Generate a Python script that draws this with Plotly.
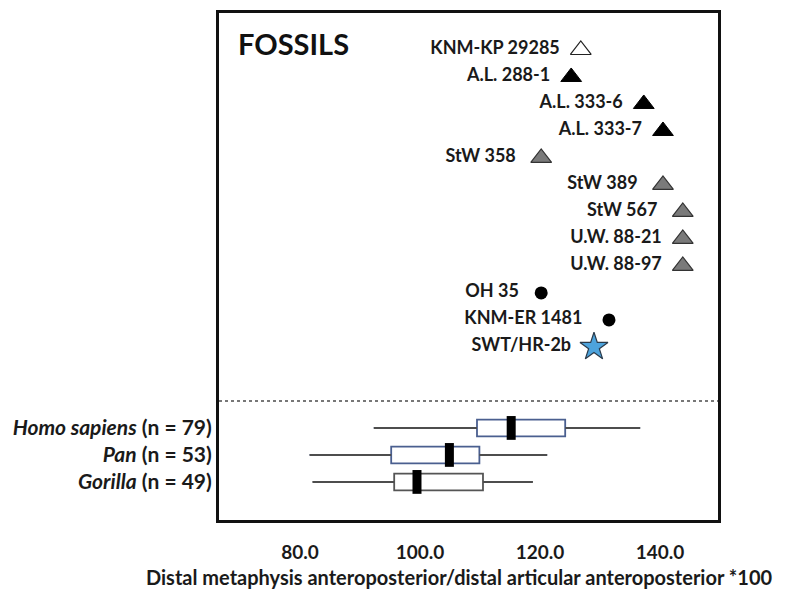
import plotly.graph_objects as go

# Fossil specimens: name, ratio value, marker group
fossil_names = ["KNM-KP 29285", "A.L. 288-1", "A.L. 333-6", "A.L. 333-7",
                "StW 358", "StW 389", "StW 567", "U.W. 88-21", "U.W. 88-97",
                "OH 35", "KNM-ER 1481", "SWT/HR-2b"]
fossil_values = [126.8, 125.2, 137.3, 140.5, 120.2, 140.5, 143.8, 143.8, 143.8,
                 120.2, 131.5, 129.0]
fossil_groups = ["anamensis", "afarensis", "afarensis", "afarensis",
                 "africanus", "africanus", "africanus", "sediba", "sediba",
                 "homo", "homo", "swt"]

# Extant comparative samples (box summaries)
species_labels = ["<i>Homo sapiens</i> (n = 79)", "<i>Pan</i> (n = 53)",
                  "<i>Gorilla</i> (n = 49)"]
species_lower = [92.3, 81.6, 82.1]
species_q1 = [109.5, 95.2, 95.7]
species_median = [115.2, 104.9, 99.5]
species_q3 = [124.2, 109.9, 110.5]
species_upper = [136.7, 121.2, 118.8]

x_ticks = [80, 100, 120, 140]
x_title = "Distal metaphysis anteroposterior/distal articular anteroposterior *100"

FONT = "Lato"

group_style = {
    "anamensis": dict(symbol="triangle-up", size=18, color="white", line=dict(color="#222", width=1.2), gap=2),
    "afarensis": dict(symbol="triangle-up", size=18, color="black", line=dict(color="black", width=1), gap=2),
    "africanus": dict(symbol="triangle-up", size=18, color="#7a7a7a", line=dict(color="#333", width=1.2), gap=3),
    "sediba": dict(symbol="triangle-up", size=18, color="#7a7a7a", line=dict(color="#333", width=1.2), gap=2),
    "homo": dict(symbol="circle", size=13, color="black", line=dict(color="black", width=0), gap=3),
    "swt": dict(symbol="star", size=21, color="#4da3dc", line=dict(color="#2a3a4a", width=1.2), gap=2),
}

fig = go.Figure()

# one row per fossil, top to bottom
fossil_rows = list(range(len(fossil_names)))
for i, (name, val, grp) in enumerate(zip(fossil_names, fossil_values, fossil_groups)):
    st = group_style[grp]
    extra = 1 if name == "KNM-ER 1481" else 0
    fig.add_trace(go.Scatter(
        x=[val], y=[fossil_rows[i]], mode="markers+text",
        text=["<b>" + name + "\u00a0" * (st["gap"] + extra) + "</b>"],
        textposition="middle left",
        textfont=dict(family=FONT, size=18, color="#1a1a1a"),
        marker=dict(symbol=st["symbol"], size=st["size"], color=st["color"],
                    line=st["line"]),
        showlegend=False, hoverinfo="skip", cliponaxis=False,
    ))

species_rows = [14, 15, 16]
box_colors = ["#4a5f8f", "#4a5f8f", "#555555"]
for i in range(3):
    fig.add_trace(go.Box(
        y=[species_rows[i]], orientation="h",
        q1=[species_q1[i]], median=[species_median[i]], q3=[species_q3[i]],
        lowerfence=[species_lower[i]], upperfence=[species_upper[i]],
        width=0.62, whiskerwidth=0,
        fillcolor="white", line=dict(color=box_colors[i], width=1.8),
        showlegend=False, hoverinfo="skip",
    ))

# whisker lines drawn in dark gray over the box outline colour
for i in range(3):
    for seg in ([species_lower[i], species_q1[i]], [species_q3[i], species_upper[i]]):
        fig.add_trace(go.Scatter(
            x=seg, y=[species_rows[i]] * 2, mode="lines",
            line=dict(color="#4d4d4d", width=2),
            showlegend=False, hoverinfo="skip",
        ))

# thick median bars
fig.add_trace(go.Scatter(
    x=species_median, y=species_rows, mode="markers",
    marker=dict(symbol="line-ns", size=17, line=dict(color="black", width=9)),
    showlegend=False, hoverinfo="skip",
))

# separator between fossils and extant samples
fig.add_shape(type="line", xref="paper", x0=0, x1=1, yref="y", y0=13, y1=13,
              line=dict(color="#777777", width=2, dash="dot"))

fig.add_annotation(text="<b>FOSSILS</b>", xref="paper", yref="paper",
                   x=0.034, y=0.939, xanchor="left", yanchor="middle",
                   showarrow=False, font=dict(family=FONT, size=29, color="#111"))

# x-axis title
fig.add_annotation(text="<b>" + x_title + "</b>", xref="paper", yref="paper",
                   x=0.481, y=-0.112, xanchor="center", yanchor="middle",
                   showarrow=False, font=dict(family=FONT, size=20, color="#1a1a1a"))

fig.update_layout(
    width=788, height=589,
    margin=dict(l=219, r=70, t=13, b=69),
    paper_bgcolor="white", plot_bgcolor="white",
    font=dict(family=FONT, color="#1a1a1a"),
    xaxis=dict(
        range=[66.5, 149.67], tickvals=x_ticks,
        ticktext=[f"<b>{v:.1f}</b>" for v in x_ticks],
        tickfont=dict(family=FONT, size=19, color="#1a1a1a"),
        showgrid=False, zeroline=False, automargin=False,
        ticks="outside", ticklen=13, tickcolor="rgba(0,0,0,0)",
        showline=True, mirror=True, linecolor="#111", linewidth=3,
    ),
    yaxis=dict(
        range=[17.41, -1.37], tickvals=species_rows,
        ticktext=["<b>" + s + "</b>" for s in species_labels],
        tickfont=dict(family=FONT, size=21, color="#1a1a1a"),
        showgrid=False, zeroline=False, ticks="", automargin=False,
        showline=True, mirror=True, linecolor="#111", linewidth=3,
    ),
)

fig.write_html("out.html")
